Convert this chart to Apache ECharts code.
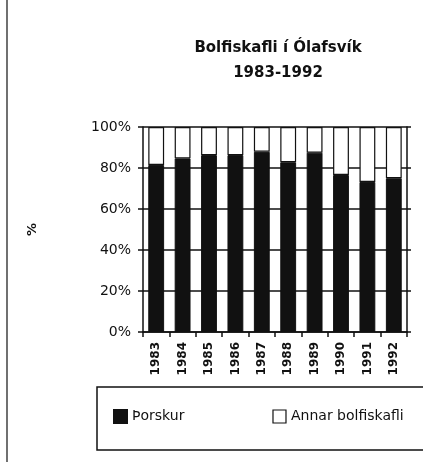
<!DOCTYPE html>
<html>
<head>
<meta charset="UTF-8" />
<script src="https://cdn.jsdelivr.net/npm/echarts@6/dist/echarts.min.js"></script>
<style>
  html, body { margin: 0; padding: 0; background: #fff; }
  #main { width: 423px; height: 462px; }
</style>
</head>
<body>
<div id="main"></div>
<script>
  // ár
  var years = ["1983", "1984", "1985", "1986", "1987", "1988", "1989", "1990", "1991", "1992"];
  // hlutfall þorsks (%)
  var thorskur = [81.5, 84.7, 86.3, 86.3, 87.9, 82.8, 87.5, 76.6, 73.2, 75.0];
  // annar bolfiskafli (%)
  var annar = [18.5, 15.3, 13.7, 13.7, 12.1, 17.2, 12.5, 23.4, 26.8, 25.0];
  var yTicks = [0, 20, 40, 60, 80, 100];

  var myChart = echarts.init(document.getElementById("main"));
  var font = "DejaVu Sans";

  var option = {
    animation: false,
    backgroundColor: "#fff",
    title: {
      text: "Bolfiskafli í Ólafsvík\n1983-1992",
      left: 273,
      textAlign: "center",
      top: 31,
      textStyle: {
        fontFamily: font,
        fontWeight: "bold",
        fontSize: 15,
        lineHeight: 25,
        color: "#111"
      }
    },
    legend: {
      left: 108,
      top: 404,
      itemWidth: 13,
      itemHeight: 13,
      itemGap: 88,
      textStyle: { fontFamily: font, fontSize: 14, color: "#111" },
      data: [
        { name: "Þorskur", icon: "rect", itemStyle: { color: "#111" } },
        { name: "Annar bolfiskafli", icon: "rect", itemStyle: { color: "#fff", borderColor: "#111", borderWidth: 1.2 } }
      ]
    },
    grid: { left: 143, right: 16, top: 127, bottom: 130 },
    xAxis: {
      type: "category",
      data: years,
      axisLine: { lineStyle: { color: "#111", width: 1.5 } },
      axisTick: { show: true, length: 5, lineStyle: { color: "#111", width: 1.5 } },
      axisLabel: {
        rotate: 90,
        margin: 10,
        fontFamily: font,
        fontSize: 12,
        fontWeight: "bold",
        color: "#111"
      }
    },
    yAxis: [
      {
        type: "value",
        min: 0,
        max: 100,
        interval: 20,
        name: "%",
        nameLocation: "middle",
        nameRotate: 90,
        nameGap: 104,
        nameTextStyle: { fontFamily: font, fontSize: 13, fontWeight: "bold", color: "#111" },
        axisLine: { show: true, lineStyle: { color: "#111", width: 1.5 } },
        axisTick: { show: true, length: 5, lineStyle: { color: "#111", width: 1.5 } },
        axisLabel: {
          margin: 12,
          fontFamily: font,
          fontSize: 14,
          color: "#111",
          formatter: function (v) { return yTicks.indexOf(v) >= 0 ? v + "%" : ""; }
        },
        splitLine: { show: true, lineStyle: { color: "#111", width: 1.5 } }
      },
      {
        type: "value",
        position: "right",
        min: 0,
        max: 100,
        interval: 20,
        axisLine: { show: true, lineStyle: { color: "#111", width: 1.5 } },
        axisTick: { show: true, length: 4, lineStyle: { color: "#111", width: 1.5 } },
        axisLabel: { show: false },
        splitLine: { show: false }
      }
    ],
    series: [
      {
        name: "Þorskur",
        type: "bar",
        stack: "a",
        barWidth: "60%",
        itemStyle: { color: "#111", borderColor: "#111", borderWidth: 1 },
        data: thorskur
      },
      {
        name: "Annar bolfiskafli",
        type: "bar",
        stack: "a",
        barWidth: "60%",
        itemStyle: { color: "#fff", borderColor: "#111", borderWidth: 1.2 },
        data: annar
      }
    ],
    graphic: [
      {
        type: "line",
        shape: { x1: 7, y1: 0, x2: 7, y2: 462 },
        style: { stroke: "#111", lineWidth: 1.2 }
      },
      {
        type: "rect",
        z: -1,
        shape: { x: 97, y: 387, width: 340, height: 63 },
        style: { fill: "none", stroke: "#111", lineWidth: 1.5 }
      }
    ]
  };
  myChart.setOption(option);
</script>
</body>
</html>
